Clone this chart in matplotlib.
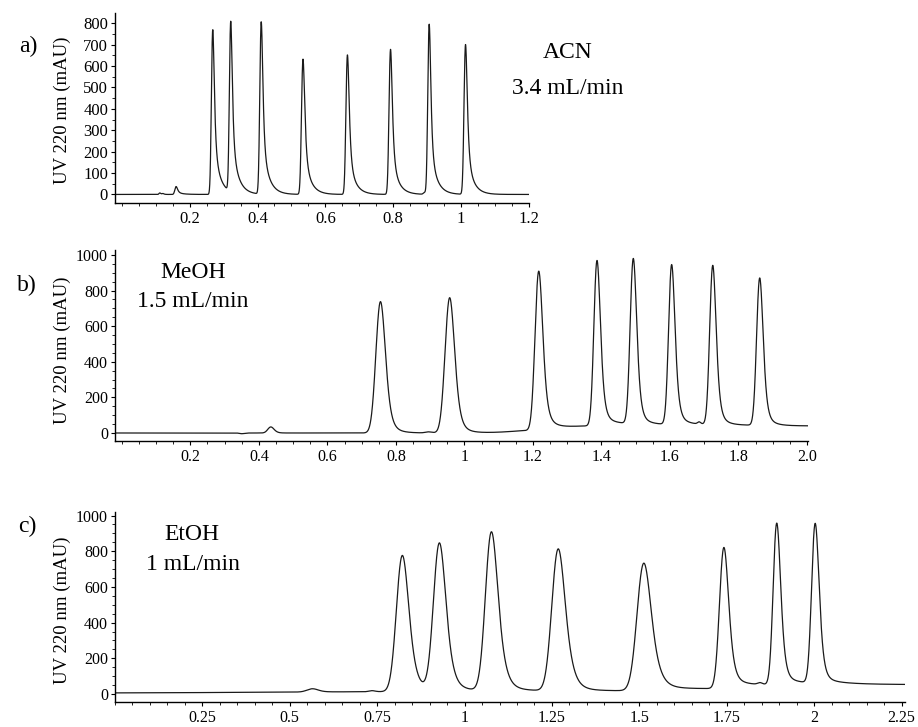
import numpy as np
import matplotlib
matplotlib.use("Agg")
import matplotlib.pyplot as plt
from matplotlib.ticker import FixedLocator, FixedFormatter, MultipleLocator

plt.rcParams['font.family'] = ['Liberation Serif', 'DejaVu Serif']

# ---------------- Panel a: ACN, 3.4 mL/min ----------------
a_times   = [0.112, 0.121, 0.160, 0.268, 0.321, 0.411, 0.534, 0.665, 0.792, 0.892, 0.906, 1.013]
a_heights = [7, 4, 37, 770, 795, 805, 632, 652, 678, 8, 795, 700]
a_sigma   = [0.002, 0.002, 0.003, 0.0032, 0.0032, 0.0034, 0.0036, 0.0036, 0.0036, 0.003, 0.0034, 0.0036]
a_tau     = [0.003, 0.003, 0.004, 0.004, 0.004, 0.004, 0.0045, 0.0045, 0.0045, 0.003, 0.004, 0.0045]
a_tail    = [0.0, 0.0, 0.3, 0.4, 0.4, 0.4, 0.4, 0.35, 0.35, 0.0, 0.35, 0.35]
a_tail_tau = 0.018
a_base_level = 0.0
a_steps_t, a_steps_d, a_steps_w = [], [], []
a_xticks = [0.2, 0.4, 0.6, 0.8, 1.0, 1.2]
a_xlabels = ["0.2", "0.4", "0.6", "0.8", "1", "1.2"]
a_yticks = [0, 100, 200, 300, 400, 500, 600, 700, 800]

# ---------------- Panel b: MeOH, 1.5 mL/min ----------------
b_times   = [0.35, 0.435, 0.755, 0.895, 0.957, 1.217, 1.387, 1.493, 1.605, 1.685, 1.725, 1.862]
b_heights = [-4, 34, 738, 6, 760, 890, 925, 928, 898, 12, 895, 828]
b_sigma   = [0.006, 0.008, 0.012, 0.008, 0.012, 0.0095, 0.008, 0.008, 0.0078, 0.004, 0.0078, 0.008]
b_tau     = [0.004, 0.006, 0.009, 0.006, 0.009, 0.008, 0.007, 0.007, 0.007, 0.003, 0.007, 0.007]
b_tail    = [0.0, 0.0, 0.1, 0.0, 0.1, 0.1, 0.08, 0.08, 0.08, 0.0, 0.08, 0.08]
b_tail_tau = 0.025
b_base_level = 0.0
b_steps_t = [1.14, 1.222, 1.32, 1.39, 1.50, 1.73, 1.87]
b_steps_d = [18, 12, 12, 10, -5, -4, -3]
b_steps_w = [0.035, 0.004, 0.03, 0.004, 0.004, 0.004, 0.004]
b_xticks = [0.2, 0.4, 0.6, 0.8, 1.0, 1.2, 1.4, 1.6, 1.8, 2.0]
b_xlabels = ["0.2", "0.4", "0.6", "0.8", "1", "1.2", "1.4", "1.6", "1.8", "2.0"]
b_yticks = [0, 200, 400, 600, 800, 1000]

# ---------------- Panel c: EtOH, 1 mL/min ----------------
c_times   = [0.565, 0.735, 0.822, 0.928, 1.077, 1.268, 1.513, 1.742, 1.845, 1.893, 2.003]
c_heights = [18, 6, 760, 825, 890, 795, 715, 790, 10, 905, 895]
c_sigma   = [0.014, 0.008, 0.015, 0.015, 0.015, 0.016, 0.017, 0.011, 0.006, 0.009, 0.009]
c_tau     = [0.01, 0.005, 0.013, 0.013, 0.014, 0.015, 0.016, 0.01, 0.004, 0.008, 0.008]
c_tail    = [0.0, 0.0, 0.05, 0.05, 0.05, 0.05, 0.05, 0.05, 0.0, 0.05, 0.05]
c_tail_tau = 0.04
c_base_level = 5.0
c_steps_t = [0.4, 0.80, 1.55, 1.77, 1.90, 2.15]
c_steps_d = [9, 4, 12, 20, 8, -5]
c_steps_w = [0.2, 0.01, 0.01, 0.01, 0.005, 0.05]
c_xticks = [0.25, 0.5, 0.75, 1.0, 1.25, 1.5, 1.75, 2.0, 2.25]
c_xlabels = ["0.25", "0.5", "0.75", "1", "1.25", "1.5", "1.75", "2", "2.25"]
c_yticks = [0, 200, 400, 600, 800, 1000]

DT = 0.0002


def peak_shape(t, mu, sigma, tau):
    g = np.exp(-0.5 * ((t - mu) / sigma) ** 2)
    k = np.exp(-np.arange(0, 10 * tau, DT) / tau)
    c = np.convolve(g, k)[:len(t)]
    return c / c.max()


def one_peak(t, mu, h, sigma, tau, tail, tail_tau):
    def build(center):
        s = peak_shape(t, center, sigma, tau)
        if tail > 0:
            s = s + tail * peak_shape(t, center, sigma, tail_tau)
        return s / s.max()
    first = build(mu)
    shift = t[np.argmax(first)] - mu
    return h * build(mu - shift)


def trace(t, times, heights, sig, taus, tails, tail_tau, level, st, sd, sw):
    y = np.full_like(t, level)
    for t0, d, w in zip(st, sd, sw):
        y += d / (1.0 + np.exp(-(t - t0) / w))
    for mu, h, s, tau, f in zip(times, heights, sig, taus, tails):
        y += one_peak(t, mu, h, s, tau, f, tail_tau)
    return y


W, H = 918, 727
fig = plt.figure(figsize=(W / 100, H / 100), dpi=100)


def px_axes(left, top, right, bottom):
    return fig.add_axes([left / W, 1 - bottom / H, (right - left) / W, (bottom - top) / H])


panels = [
    dict(box=(115, 13, 529, 203), xlim=(-0.02, 1.2), ylim=(-40, 848),
         times=a_times, heights=a_heights, sig=a_sigma, tau=a_tau, tail=a_tail, tail_tau=a_tail_tau,
         level=a_base_level, st=a_steps_t, sd=a_steps_d, sw=a_steps_w,
         xt=a_xticks, xl=a_xlabels, yt=a_yticks, ymin=50, fs=12),
    dict(box=(115, 250, 808, 441), xlim=(-0.02, 2.003), ylim=(-45, 1028),
         times=b_times, heights=b_heights, sig=b_sigma, tau=b_tau, tail=b_tail, tail_tau=b_tail_tau,
         level=b_base_level, st=b_steps_t, sd=b_steps_d, sw=b_steps_w,
         xt=b_xticks, xl=b_xlabels, yt=b_yticks, ymin=50, fs=11.5),
    dict(box=(115, 512, 905, 702), xlim=(0, 2.26), ylim=(-45, 1020),
         times=c_times, heights=c_heights, sig=c_sigma, tau=c_tau, tail=c_tail, tail_tau=c_tail_tau,
         level=c_base_level, st=c_steps_t, sd=c_steps_d, sw=c_steps_w,
         xt=c_xticks, xl=c_xlabels, yt=c_yticks, ymin=50, fs=11.5),
]

for p in panels:
    ax = px_axes(*p['box'])
    t = np.arange(p['xlim'][0], p['xlim'][1] + DT, DT)
    y = trace(t, p['times'], p['heights'], p['sig'], p['tau'], p['tail'], p['tail_tau'],
              p['level'], p['st'], p['sd'], p['sw'])
    ax.plot(t, y, color='#1a1a1a', lw=0.9)
    ax.set_xlim(*p['xlim'])
    ax.set_ylim(*p['ylim'])
    for s in ('top', 'right'):
        ax.spines[s].set_visible(False)
    for s in ('left', 'bottom'):
        ax.spines[s].set_linewidth(1.0)
    ax.xaxis.set_major_locator(FixedLocator(p['xt']))
    ax.xaxis.set_major_formatter(FixedFormatter(p['xl']))
    ax.xaxis.set_minor_locator(MultipleLocator(0.05))
    ax.yaxis.set_major_locator(FixedLocator(p['yt']))
    ax.yaxis.set_minor_locator(MultipleLocator(p['ymin']))
    ax.tick_params(axis='both', which='major', direction='out', length=3, width=0.8,
                   labelsize=p['fs'], pad=2)
    ax.tick_params(axis='both', which='minor', direction='out', length=2, width=0.6)
    ax.tick_params(axis='x', pad=3)

ylab_kw = dict(rotation=90, ha='center', va='center', fontsize=13.5)
fig.text(62 / W, 1 - 110 / H, "UV 220 nm (mAU)", **ylab_kw)
fig.text(62 / W, 1 - 350 / H, "UV 220 nm (mAU)", **ylab_kw)
fig.text(62 / W, 1 - 610 / H, "UV 220 nm (mAU)", **ylab_kw)

lab_kw = dict(ha='center', va='center', fontsize=17)
fig.text(28 / W, 1 - 46 / H, "a)", **lab_kw)
fig.text(27 / W, 1 - 285 / H, "b)", **lab_kw)
fig.text(27 / W, 1 - 526 / H, "c)", **lab_kw)

ann_kw = dict(ha='center', va='center', fontsize=17)
fig.text(568 / W, 1 - 53 / H, "ACN", **ann_kw)
fig.text(568 / W, 1 - 88 / H, "3.4 mL/min", **ann_kw)
fig.text(193 / W, 1 - 273 / H, "MeOH", **ann_kw)
fig.text(193 / W, 1 - 301 / H, "1.5 mL/min", **ann_kw)
fig.text(192 / W, 1 - 535 / H, "EtOH", **ann_kw)
fig.text(193 / W, 1 - 565 / H, "1 mL/min", **ann_kw)

fig.savefig("out.png", dpi=100)
